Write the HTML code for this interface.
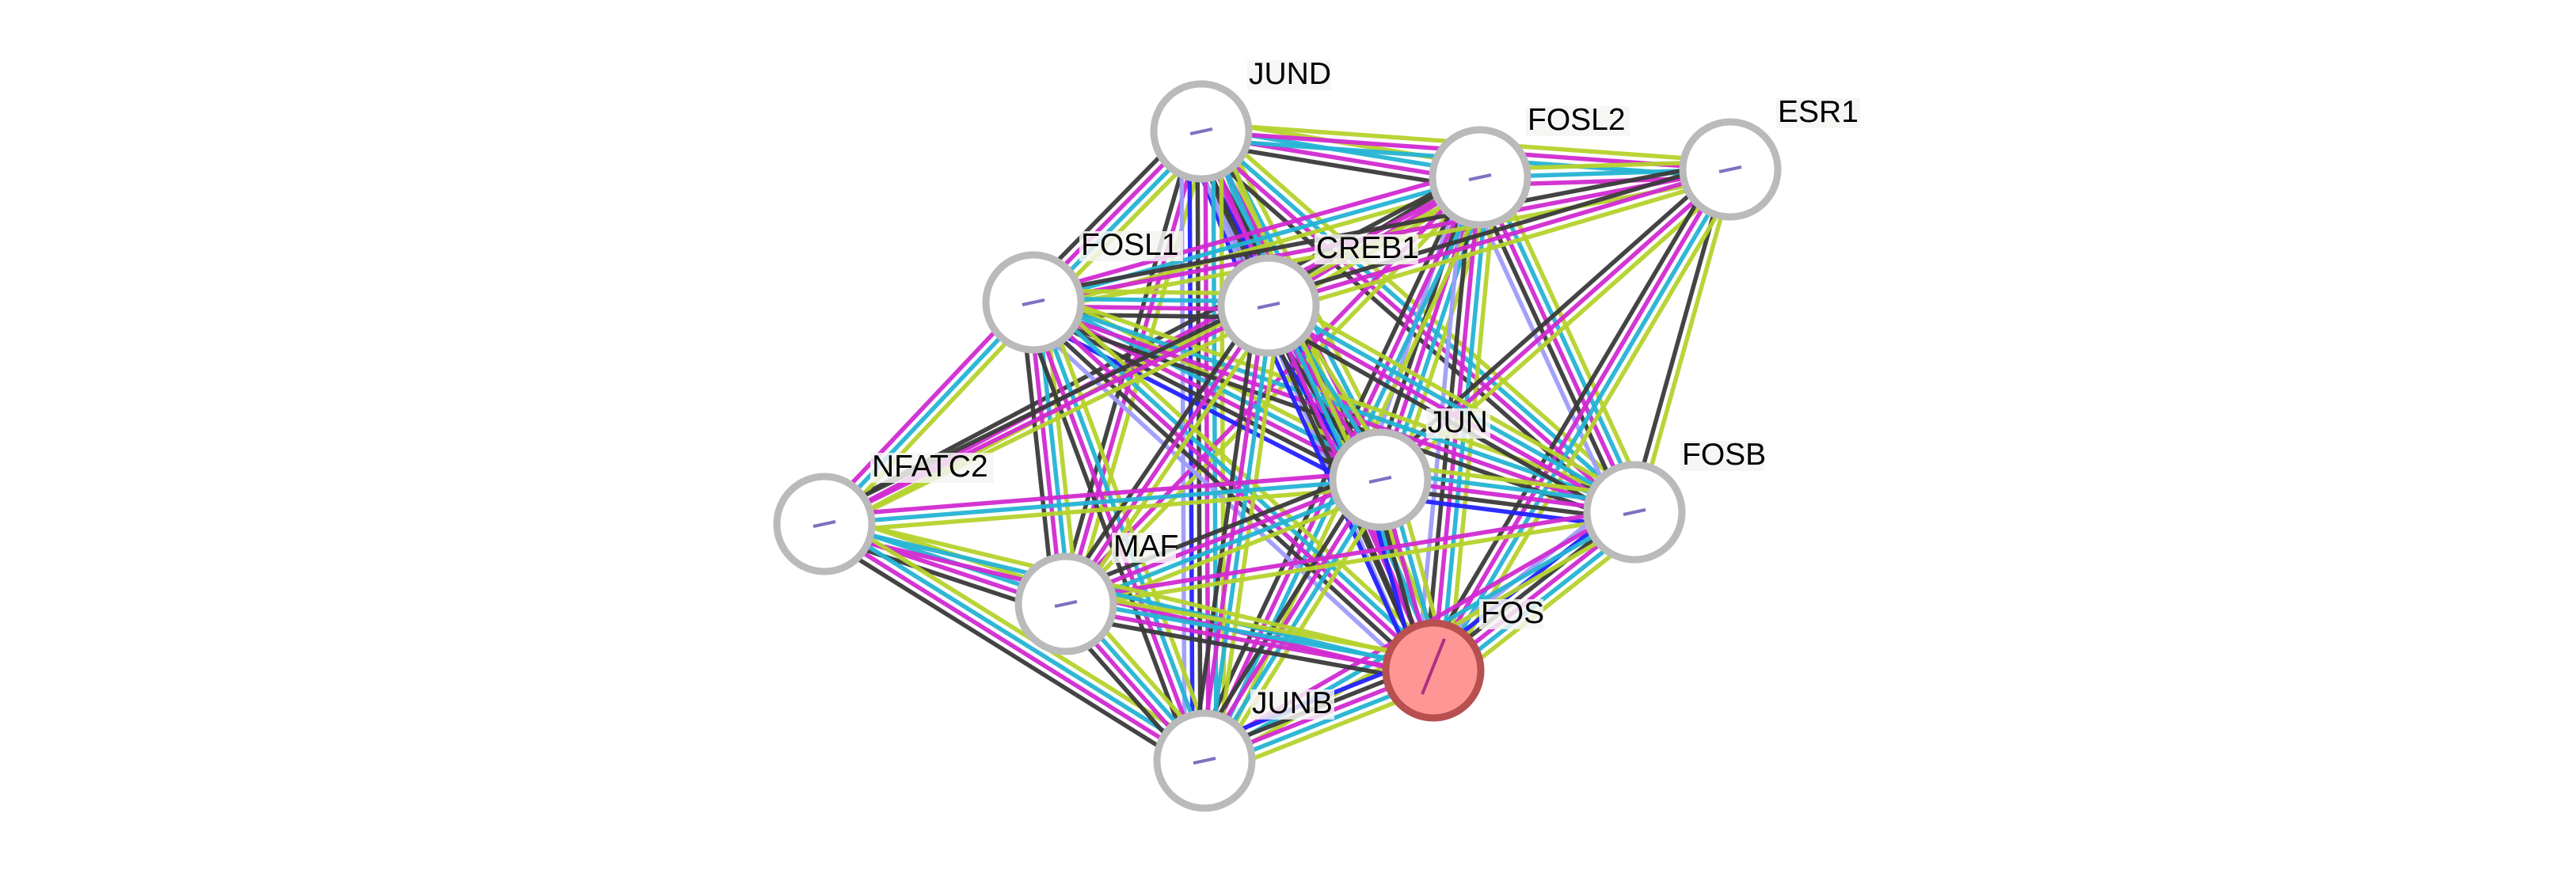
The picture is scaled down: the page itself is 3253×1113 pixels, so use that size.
<!DOCTYPE html>
<html><head><meta charset="utf-8"><style>
html,body{margin:0;padding:0;background:#fff;}
svg{display:block;}
text{font-family:"Liberation Sans",sans-serif;font-size:39px;fill:#000;}
</style></head><body>
<svg id="s" width="3253" height="1113" xmlns="http://www.w3.org/2000/svg"></svg>
<script>
var N={
JUND:[1517,166],FOSL2:[1869,224],ESR1:[2185,214],FOSL1:[1305,382],CREB1:[1602,386],
JUN:[1743,606],FOSB:[2064,647],NFATC2:[1041,662],MAF:[1346,763],FOS:[1810,847],JUNB:[1521,961]};
var C={t:"#b5d22c",d:"#25b3d4",e:"#d12ad1",k:"#3a3a3a",b:"#2222ff",h:"#9d9dfa"};
var E=[
["JUND","FOSL2","tdek"],["JUND","ESR1","ted"],["JUND","FOSL1","tdek"],["JUND","CREB1","tdekb"],
["JUND","JUN","tdekbh"],["JUND","FOSB","tdek"],["JUND","MAF","tek"],
["JUND","FOS","tdekh"],["JUND","JUNB","tdekbh"],
["FOSL2","ESR1","tde"],["FOSL2","FOSL1","tde"],["FOSL2","CREB1","tek"],["FOSL2","JUN","tdekh"],
["FOSL2","FOSB","tdekh"],["FOSL2","NFATC2","tek"],["FOSL2","MAF","te"],["FOSL2","FOS","tdekh"],["FOSL2","JUNB","tdek"],
["ESR1","FOSL1","tek"],["ESR1","CREB1","tek"],["ESR1","JUN","tek"],["ESR1","FOSB","tk"],["ESR1","FOS","tdek"],
["FOSL1","CREB1","tdek"],["FOSL1","JUN","tdekb"],["FOSL1","FOSB","tdek"],["FOSL1","NFATC2","tde"],
["FOSL1","MAF","tdek"],["FOSL1","FOS","tdekh"],["FOSL1","JUNB","tdek"],
["CREB1","JUN","tdekb"],["CREB1","FOSB","tdek"],["CREB1","NFATC2","tek"],["CREB1","MAF","tek"],
["CREB1","FOS","tdekb"],["CREB1","JUNB","tdek"],
["JUN","FOSB","tdekb"],["JUN","NFATC2","tde"],["JUN","MAF","tdek"],["JUN","FOS","tdekb"],["JUN","JUNB","tdek"],
["FOSB","MAF","te"],["FOSB","FOS","tdekbh"],["FOSB","JUNB","tde"],
["NFATC2","MAF","tdek"],["NFATC2","FOS","tde"],["NFATC2","JUNB","tdek"],
["MAF","FOS","tdek"],["MAF","JUNB","tdek"],["FOS","JUNB","tdekb"]];
var s=document.getElementById("s"),h="";
E.forEach(function(e){
 var a=N[e[0]],b=N[e[1]],cs=e[2].split("");if(!cs.length)return;
 var dx=b[0]-a[0],dy=b[1]-a[1],L=Math.hypot(dx,dy),px=-dy/L,py=dx/L,n=cs.length;
 cs.forEach(function(c,i){var o=(i-(n-1)/2)*10;
  h+='<line x1="'+(a[0]+px*o)+'" y1="'+(a[1]+py*o)+'" x2="'+(b[0]+px*o)+'" y2="'+(b[1]+py*o)+'" stroke="'+C[c]+'" stroke-width="5.5" stroke-opacity="0.95"/>';});
});
for(var k in N){var p=N[k],f=k=="FOS";
 h+='<circle cx="'+p[0]+'" cy="'+p[1]+'" r="60" fill="'+(f?"#ff9696":"#fff")+'" stroke="'+(f?"#b85050":"#bababa")+'" stroke-width="9"/>';
 h+='<line x1="'+(p[0]-14)+'" y1="'+(p[1]+(f?30:3))+'" x2="'+(p[0]+14)+'" y2="'+(p[1]-(f?40:3))+'" stroke="'+(f?"#b03080":"#8070c0")+'" stroke-width="4"/>';
}
for(var k in N){var p=N[k],w=k.length*25+6;
 h+='<rect x="'+(p[0]+58)+'" y="'+(p[1]-90)+'" width="'+w+'" height="38" fill="#f5f5f2" fill-opacity="0.85"/>';
 h+='<text x="'+(p[0]+60)+'" y="'+(p[1]-60)+'">'+k+'</text>';}
s.innerHTML=h;
</script>
</body></html>
